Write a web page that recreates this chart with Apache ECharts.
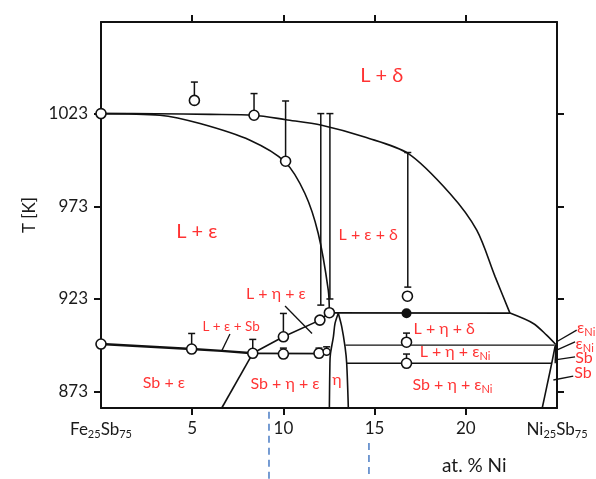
<!DOCTYPE html>
<html>
<head>
<meta charset="utf-8">
<title>Fe25Sb75 - Ni25Sb75</title>
<script src="https://cdn.jsdelivr.net/npm/echarts@6.0.0/dist/echarts.min.js"></script>
<style>
html, body { margin: 0; padding: 0; background: #fff; }
#main { width: 596px; height: 479px; }
</style>
</head>
<body>
<div id="main"></div>
<script>
// axis ticks
var xTicks = [5, 10, 15, 20];
var xLabelValues = [0, 5, 10, 15, 20, 25];
var xEndLabels = ['{a|Fe}{s|25}{a|Sb}{s|75}', '{a|Ni}{s|25}{a|Sb}{s|75}'];
var yTicks = [873, 923, 973, 1023];

// phase boundaries, [at.% Ni, T in K]
var liquidusDelta = [[0, 1023], [3, 1022.9], [6, 1022.6], [8.39, 1022.1], [10.14, 1019.7], [12.1, 1016.7],
  [14.5, 1010.2], [16.85, 1001.4], [19.13, 979.9], [20.6, 960.1], [21.6, 935.2], [22.42, 915.4]];
var liquidusEps = [[0, 1023], [3.23, 1022.1], [5.43, 1017.6], [8.17, 1008.6], [10.09, 996.9], [11.18, 979.9],
  [11.91, 958.3], [12.46, 927.8], [12.52, 915.6]];
var deltaEdge = [[22.42, 915.4], [23.7, 909.8], [24.43, 903.5], [24.92, 898.6]];
var solvusNi = [[24.92, 898.6], [24.71, 888.3], [24.44, 875.7], [24.19, 864.2]];
var solvusNi2 = [[24.93, 898.1], [24.9, 888.3]];
var eutecticLeft = [[0, 898.7], [4.97, 896.0], [6.62, 895.0], [8.32, 893.7]];
var eutecticMid = [[8.32, 893.7], [12.58, 893.5]];
var etaLiquidus = [[8.32, 893.7], [10.0, 902.6], [12.0, 911.6], [12.52, 915.6]];
var epsSbLine = [[8.32, 893.7], [6.62, 864.2]];
var etaLeft = [[13.01, 915.3], [12.83, 909.8], [12.74, 902.6], [12.58, 893.5], [12.55, 888.3], [12.52, 864.2]];
var etaRight = [[13.01, 915.3], [13.2, 908], [13.38, 897.2], [13.47, 888.3], [13.56, 864.2]];
var line915 = [[12.52, 915.5], [22.42, 915.4]];
var line898 = [[13.4, 898.1], [24.85, 898.1]];
var line888 = [[13.47, 888.3], [24.71, 888.3]];

// measured points
var openPoints = [[0, 1023], [5.12, 1030.1], [8.39, 1022.1], [10.12, 997.3], [0, 898.7], [4.97, 896.0],
  [8.32, 893.7], [10.0, 902.6], [12.0, 911.6], [12.52, 915.6], [16.8, 924.5], [16.75, 899.7],
  [16.75, 888.3], [10.0, 893.3], [11.95, 893.7]];
var smallPoints = [[12.37, 894.5]];
var filledPoints = [[16.75, 915.3]];
// [x, low, high]
var errBars = [[5.12, 1030.1, 1040.0], [8.39, 1022.1, 1033.8], [10.12, 997.3, 1029.8], [12.05, 919.7, 1023.0],
  [12.55, 923.0, 1023.0], [16.82, 929.4, 1002.0], [16.75, 899.7, 904.6], [16.75, 888.3, 893.3],
  [10.0, 902.6, 915.2], [10.0, 893.3, 896.5], [11.95, 893.7, 896.5], [12.37, 894.5, 897.2],
  [4.97, 896.0, 904.4], [8.32, 893.7, 901.2]];

// region labels [x, T, text]
var bigLabels = [[15.39, 1043.6, 'L + δ'], [5.25, 959.2, 'L + ε']];
var midLabels = [[14.65, 957.4, 'L + ε + δ'], [9.59, 925.6, 'L + η + ε'], [3.45, 877.7, 'Sb + ε'],
  [10.09, 877.2, 'Sb + η + ε'], [12.94, 879.3, 'η'], [18.82, 906.8, 'L + η + δ'],
  [19.41, 894.5, 'L + η + ε{s|Ni}'], [19.27, 876.6, 'Sb + η + ε{s|Ni}']];
var smallLabels = [[7.13, 908.0, 'L + ε + Sb']];
var sideLabels = [[26.1, 907.4, 'ε{s|Ni}'], [26.02, 899.0, 'ε{s|Ni}'], [26.0, 891.5, 'Sb'], [25.95, 882.9, 'Sb']];
// leader lines [x1, T1, x2, T2]
var leaders = [
  [24.98, 899.9, 26.08, 906.2],
  [24.98, 895.4, 25.99, 899.9],
  [24.89, 890.1, 25.99, 891.8],
  [24.8, 879.3, 25.89, 881.4],
  [7.07, 904.1, 6.62, 895.0],
  [10.09, 919.2, 11.57, 904.4]
];
// blue dashed markers under the axis [x, T1, x, T2]
var blueMarks = [[9.21, 862.2, 9.21, 826], [14.69, 845.3, 14.69, 826]];

var myChart = echarts.init(document.getElementById('main'));
var black = '#111';
var red = '#ff0000';
var fontFam = 'Lato, "Noto Sans", sans-serif';

function curve(data, width, smooth) {
  return {
    type: 'line', data: data, showSymbol: false, silent: true, z: 2,
    smooth: smooth || 0, clip: false,
    lineStyle: { color: black, width: width || 1.6 }
  };
}

function textSeries(data, size, align) {
  return {
    type: 'scatter', data: data, symbolSize: 0, silent: true, clip: false, z: 6,
    label: {
      show: true, position: 'inside', align: align || 'center', color: red, fontFamily: fontFam, fontSize: size,
      formatter: function (p) { return p.data[2]; },
      rich: { s: { fontSize: Math.round(size * 0.68), fontFamily: fontFam, color: red, padding: [Math.round(size * 0.55), 0, 0, 0] } }
    }
  };
}

function segmentSeries(data, style) {
  return {
    type: 'custom', data: data, silent: true, clip: false, z: 2,
    encode: { x: [0, 2], y: [1, 3] },
    renderItem: function (params, api) {
      var a = api.coord([api.value(0), api.value(1)]);
      var b = api.coord([api.value(2), api.value(3)]);
      return { type: 'line', shape: { x1: a[0], y1: a[1], x2: b[0], y2: b[1] }, style: style };
    }
  };
}

function errRender(params, api) {
  var x = api.value(0);
  var lo = api.coord([x, api.value(1)]);
  var hi = api.coord([x, api.value(2)]);
  var st = { stroke: black, lineWidth: 1.5 };
  return {
    type: 'group', children: [
      { type: 'line', shape: { x1: lo[0], y1: lo[1], x2: hi[0], y2: hi[1] }, style: st },
      { type: 'line', shape: { x1: hi[0] - 3.5, y1: hi[1], x2: hi[0] + 3.5, y2: hi[1] }, style: st },
      { type: 'line', shape: { x1: lo[0] - 3.5, y1: lo[1], x2: lo[0] + 3.5, y2: lo[1] }, style: st }
    ]
  };
}

var series = [
  curve(liquidusDelta, 1.6, 0.3),
  curve(liquidusEps, 1.6, 0.3),
  curve(deltaEdge, 1.6, 0.3),
  curve(solvusNi, 1.6, 0.2),
  curve(solvusNi2, 1.4),
  curve(eutecticLeft, 2.4),
  curve(eutecticMid, 1.8),
  curve(etaLiquidus, 1.6),
  curve(epsSbLine, 1.6),
  curve(etaLeft, 1.6, 0.3),
  curve(etaRight, 1.6, 0.3),
  curve(line915, 1.6),
  curve(line898, 1.4),
  curve(line888, 1.4),
  segmentSeries(leaders, { stroke: black, lineWidth: 1.3 }),
  segmentSeries(blueMarks, { stroke: '#4a7cc4', lineWidth: 1.5, lineDash: [7, 5] })
];
series.push({
  type: 'custom', renderItem: errRender, data: errBars, silent: true, z: 3, clip: false,
  encode: { x: 0, y: [1, 2] }
});
series.push({
  type: 'scatter', data: openPoints, symbol: 'circle', symbolSize: 10, silent: true, z: 5, clip: false,
  itemStyle: { color: '#fff', borderColor: black, borderWidth: 1.6, opacity: 1 }
});
series.push({
  type: 'scatter', data: smallPoints, symbol: 'circle', symbolSize: 7, silent: true, z: 5, clip: false,
  itemStyle: { color: '#fff', borderColor: black, borderWidth: 1.4, opacity: 1 }
});
series.push({
  type: 'scatter', data: filledPoints, symbol: 'circle', symbolSize: 10, silent: true, z: 5,
  itemStyle: { color: black, opacity: 1 }
});
series.push(textSeries(bigLabels, 20));
series.push(textSeries(midLabels, 16));
series.push(textSeries(smallLabels, 13.5));
series.push(textSeries(sideLabels, 16, 'left'));

var axisLine = { show: true, onZero: false, lineStyle: { color: black, width: 2 } };

option = {
  animation: false,
  backgroundColor: '#fff',
  grid: { left: 101, right: 39, top: 22, bottom: 71, outerBoundsMode: 'none' },
  xAxis: [{
    type: 'value', min: 0, max: 25, position: 'bottom',
    axisLine: axisLine,
    axisTick: { show: true, inside: false, length: 7, customValues: xTicks, lineStyle: { color: black, width: 2 } },
    axisLabel: {
      customValues: xLabelValues, margin: 12, color: '#1a1a1a', fontSize: 17, fontFamily: fontFam,
      formatter: function (v) {
        if (v === 0) return xEndLabels[0];
        if (v === 25) return xEndLabels[1];
        return String(v);
      },
      rich: {
        a: { fontSize: 17, fontFamily: fontFam, color: '#1a1a1a' },
        s: { fontSize: 11, fontFamily: fontFam, color: '#1a1a1a', padding: [9, 0, 0, 0] }
      }
    },
    splitLine: { show: false }
  }, {
    type: 'value', min: 0, max: 25, position: 'top',
    axisLine: axisLine,
    axisTick: { show: true, inside: false, length: 7, customValues: xTicks, lineStyle: { color: black, width: 2 } },
    axisLabel: { show: false },
    splitLine: { show: false }
  }],
  yAxis: [{
    type: 'value', min: 864.2, max: 1072.4, position: 'left',
    name: 'T [K]', nameLocation: 'middle', nameRotate: 90, nameGap: 62,
    nameTextStyle: { fontSize: 17, fontFamily: fontFam, color: '#1a1a1a' },
    axisLine: axisLine,
    axisTick: { show: true, inside: false, length: 7, customValues: yTicks, lineStyle: { color: black, width: 2 } },
    axisLabel: {
      customValues: yTicks, margin: 13, color: '#1a1a1a', fontSize: 17, fontFamily: fontFam,
      formatter: function (v) { return String(v); }
    },
    splitLine: { show: false }
  }, {
    type: 'value', min: 864.2, max: 1072.4, position: 'right',
    axisLine: axisLine,
    axisTick: { show: true, inside: false, length: 7, customValues: yTicks, lineStyle: { color: black, width: 2 } },
    axisLabel: { show: false },
    splitLine: { show: false }
  }],
  graphic: [{
    type: 'text', left: 442, top: 456, silent: true,
    style: { text: 'at. % Ni', fontSize: 19, fontFamily: fontFam, fill: '#1a1a1a' }
  }],
  series: series
};

myChart.setOption(option);
</script>
</body>
</html>
